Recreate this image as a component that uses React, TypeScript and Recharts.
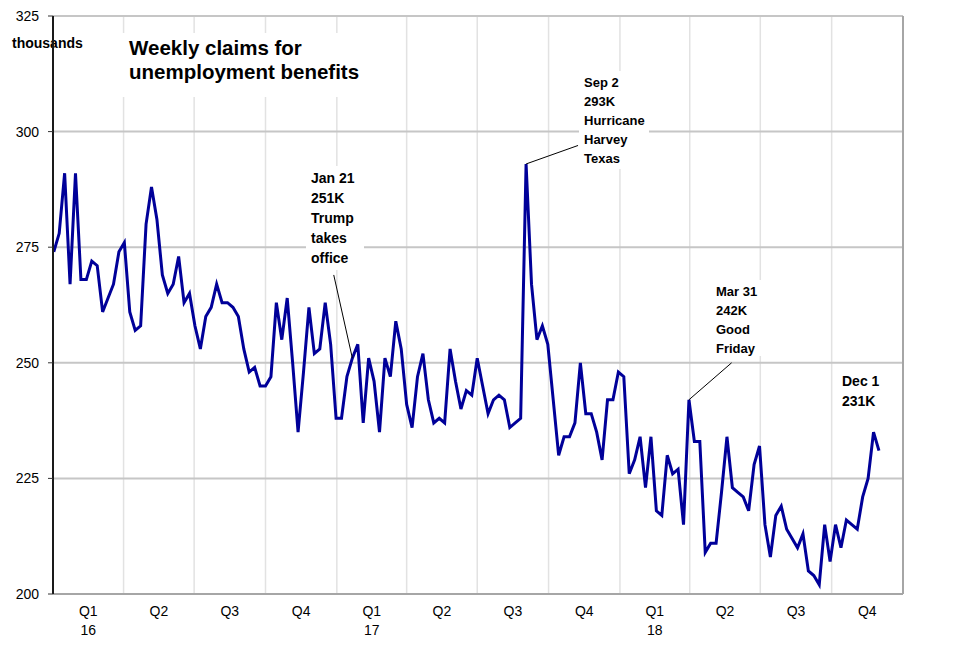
import {
  LineChart,
  Line,
  XAxis,
  YAxis,
  CartesianGrid,
  ReferenceLine,
  Customized,
} from "recharts";

// weekly initial claims, thousands, week ending Sat Jan 2 2016 .. Dec 1 2018
const claims = [
  274, 278, 291, 267, 291, 268, 268, 272, 271, 261, 264, 267, 274, 276, 261,
  257, 258, 280, 288, 281, 269, 265, 267, 273, 263, 265, 258, 253, 260, 262,
  267, 263, 263, 262, 260, 253, 248, 249, 245, 245, 247, 263, 255, 264, 250,
  235, 248, 262, 252, 253, 263, 254, 238, 238, 247, 251, 254, 237, 251, 246,
  235, 251, 247, 259, 253, 241, 236, 247, 252, 242, 237, 238, 237, 253, 246,
  240, 244, 243, 251, 245, 239, 242, 243, 242, 236, 237, 238, 293, 267, 255,
  258, 254, 242, 230, 234, 234, 237, 250, 239, 239, 235, 229, 242, 242, 248,
  247, 226, 229, 234, 223, 234, 218, 217, 230, 226, 227, 215, 242, 233, 233,
  209, 211, 211, 222, 234, 223, 222, 221, 218, 228, 232, 215, 208, 217, 219,
  214, 212, 210, 213, 205, 204, 202, 215, 207, 215, 210, 216, 215, 214, 221,
  225, 235, 231,
];
const firstWeek = "2016-01-02";

const yTicks = [200, 225, 250, 275, 300, 325];
const years = [2016, 2017, 2018];
const quarterNames = ["Q1", "Q2", "Q3", "Q4"];
const yearNames = ["16", "17", "18"];

const notes = [
  { date: "2017-01-21", value: 251, lines: ["Jan 21", "251K", "Trump", "takes", "office"] },
  { date: "2017-09-02", value: 293, lines: ["Sep 2", "293K", "Hurricane", "Harvey", "Texas"] },
  { date: "2018-03-31", value: 242, lines: ["Mar 31", "242K", "Good", "Friday"] },
  { date: "2018-12-01", value: 231, lines: ["Dec 1", "231K"] },
];

const FONT = "'Liberation Sans', Arial, Helvetica, sans-serif";
const DAY = 86400000;
const START = Date.UTC(2016, 0, 1);
const dayOf = (iso: string) => (Date.parse(iso) - START) / DAY;

const data = claims.map((v, i) => ({ day: dayOf(firstWeek) + 7 * i, claims: v }));

// quarter boundaries (gridlines) and mid-quarter label positions
const bounds: number[] = [];
years.forEach((y) => [0, 3, 6, 9].forEach((m) => bounds.push((Date.UTC(y, m, 1) - START) / DAY)));
bounds.push((Date.UTC(2019, 0, 1) - START) / DAY);
const mids = bounds.slice(0, -1).map((b, i) => (b + bounds[i + 1]) / 2);
const innerBounds = bounds.slice(1, -1);

// placement of the text blocks (pixels) and where the leader lines start (data units)
const noteLayout = [
  { x: 311, y: 178, size: 14, lead: 20, box: [306, 166, 58, 104], from: { day: 362, value: 269 } },
  { x: 584, y: 82, size: 13, lead: 19, box: [579, 71, 70, 98], from: { day: 677, value: 297 } },
  { x: 716, y: 291, size: 13, lead: 19, box: [711, 280, 54, 76], from: { day: 875, value: 250 } },
  { x: 842, y: 381, size: 14, lead: 20, box: [837, 370, 50, 41], from: null },
];

const Overlay = () => (
  <g fontFamily={FONT} fill="#000">
    <rect x={6} y={29} width={84} height={33} fill="#fff" />
    <text x={12} y={43} fontSize={14} fontWeight="bold" dominantBaseline="central">
      thousands
    </text>
    <rect x={121} y={33} width={248} height={64} fill="#fff" />
    <text x={129} y={55} fontSize={20.5} fontWeight="bold">
      Weekly claims for
    </text>
    <text x={129} y={79} fontSize={20.5} fontWeight="bold">
      unemployment benefits
    </text>
    {notes.map((n, i) => {
      const l = noteLayout[i];
      return (
        <g key={n.date}>
          <rect x={l.box[0]} y={l.box[1]} width={l.box[2]} height={l.box[3]} fill="#fff" />
          {n.lines.map((t, j) => (
            <text
              key={t}
              x={l.x}
              y={l.y + j * l.lead}
              fontSize={l.size}
              fontWeight="bold"
              dominantBaseline="central"
            >
              {t}
            </text>
          ))}
        </g>
      );
    })}
  </g>
);

const QuarterTick = (props: any) => {
  const { x, y, index } = props;
  return (
    <g fontFamily={FONT} fontSize={14} fill="#000">
      <text x={x} y={y + 14} textAnchor="middle">
        {quarterNames[index % 4]}
      </text>
      {index % 4 === 0 && (
        <text x={x} y={y + 33} textAnchor="middle">
          {yearNames[Math.floor(index / 4)]}
        </text>
      )}
    </g>
  );
};

export default function App() {
  return (
    <div style={{ position: "absolute", left: 0, top: 0, background: "#fff" }}>
      <LineChart
        width={956}
        height={645}
        data={data}
        margin={{ top: 16, right: 0, bottom: 0, left: 0 }}
      >
        <CartesianGrid
          xAxisId="q"
          yAxisId="left"
          horizontal={false}
          stroke="#e2e2e2"
          strokeWidth={1.5}
        />
        <CartesianGrid
          yAxisId="left"
          vertical={false}
          stroke="#c6c6c6"
          strokeWidth={2}
        />
        <XAxis
          xAxisId="q"
          dataKey="day"
          type="number"
          domain={[0, bounds[bounds.length - 1]]}
          ticks={innerBounds}
          hide
        />
        <XAxis
          dataKey="day"
          type="number"
          domain={[0, bounds[bounds.length - 1]]}
          ticks={mids}
          interval={0}
          height={51}
          tickLine={false}
          axisLine={{ stroke: "#a6a6a6", strokeWidth: 2 }}
          tick={<QuarterTick />}
        />
        <YAxis
          yAxisId="left"
          domain={[200, 325]}
          ticks={yTicks}
          width={53}
          tickSize={5}
          tickMargin={9}
          axisLine={{ stroke: "#1a1a1a", strokeWidth: 2 }}
          tickLine={{ stroke: "#333" }}
          tick={{ fill: "#000", fontSize: 14, fontFamily: FONT }}
        />
        <YAxis
          yAxisId="right"
          orientation="right"
          domain={[200, 325]}
          ticks={yTicks}
          width={53}
          tickSize={5}
          tickMargin={10}
          axisLine={{ stroke: "#a6a6a6", strokeWidth: 2 }}
          tickLine={{ stroke: "#a6a6a6" }}
          tick={{ fill: "#000", fontSize: 14, fontFamily: FONT, textAnchor: "start" }}
        />
        <Customized component={Overlay} />
        <Line
          yAxisId="left"
          dataKey="claims"
          stroke="#000099"
          strokeWidth={3}
          dot={false}
          activeDot={false}
          isAnimationActive={false}
        />
        {notes.map((n, i) => {
          const f = noteLayout[i].from;
          if (!f) return null;
          return (
            <ReferenceLine
              key={n.date}
              yAxisId="left"
              segment={[
                { x: f.day, y: f.value },
                { x: dayOf(n.date), y: n.value },
              ]}
              stroke="#000"
              strokeWidth={1}
            />
          );
        })}
      </LineChart>
    </div>
  );
}
